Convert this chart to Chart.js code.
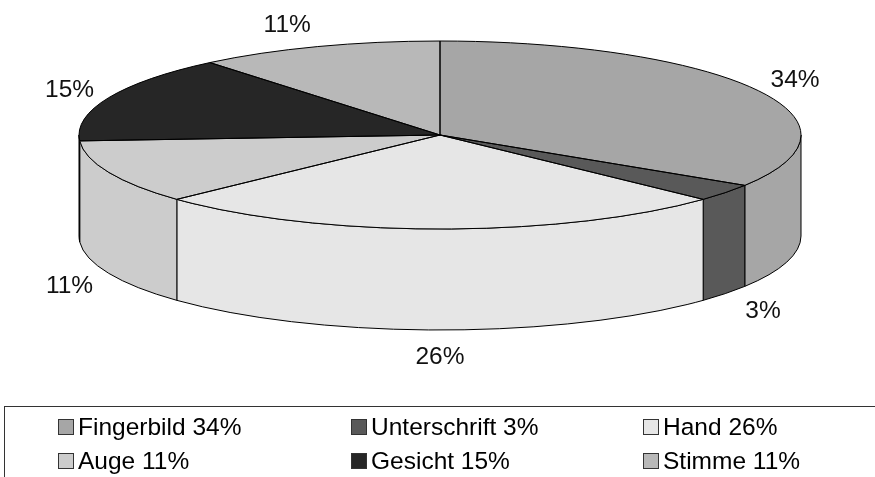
<!DOCTYPE html>
<html>
<head>
<meta charset="utf-8">
<title>Biometrie</title>
<script src="https://cdn.jsdelivr.net/npm/chart.js@4"></script>
<style>
  html, body { margin: 0; padding: 0; background: #fff; overflow: hidden; }
  #wrap { position: relative; width: 875px; height: 477px; overflow: hidden; font-family: "Liberation Sans", Arial, sans-serif; }
  #chart-pie { position: absolute; left: 0; top: 0; }
  #legend { position: absolute; left: 4px; top: 406px; width: 875px; height: 80px; border-top: 1px solid #333; border-left: 1px solid #333; }
  .item { position: absolute; font-size: 24.5px; line-height: 28px; color: #000; white-space: nowrap; }
  .item i { position: absolute; left: -20px; top: 6px; width: 14px; height: 14px; border: 1px solid #333; }
</style>
</head>
<body>
<div id="wrap">
  <canvas id="chart-pie" width="875" height="477"></canvas>
  <div id="legend"></div>
</div>
<script>
const names = ["Fingerbild", "Unterschrift", "Hand", "Auge", "Gesicht", "Stimme"];
const shares = [34, 3, 26, 11, 15, 11];
const greys = ["#a6a6a6", "#595959", "#e6e6e6", "#cccccc", "#262626", "#b8b8b8"];

// ─────────────────── 3D look ───────────────────
const RX = 361;      // pie radius, horizontal
const RY = 94;       // squashed radius of the top face
const DEPTH = 101;   // height of the side wall
const FONT = '24.5px "Liberation Sans", Arial, sans-serif';

const pie3d = {
  id: "pie3d",
  beforeDatasetsDraw(chart) {
    const ctx = chart.ctx;
    const arcs = chart.getDatasetMeta(0).data;
    const { x: cx, y: cy } = arcs[0];

    // side walls, only the front half (canvas angles 0..PI) is visible
    arcs.forEach((arc, i) => {
      const a0 = Math.max(arc.startAngle, 0);
      const a1 = Math.min(arc.endAngle, Math.PI);
      if (a1 <= a0) return;
      ctx.beginPath();
      ctx.ellipse(cx, cy, RX, RY, 0, a0, a1);
      ctx.ellipse(cx, cy + DEPTH, RX, RY, 0, a1, a0, true);
      ctx.closePath();
      ctx.fillStyle = greys[i];
      ctx.fill();
      ctx.lineWidth = 1;
      ctx.strokeStyle = "#000";
      ctx.stroke();
    });

    // the library draws the slices on a squashed canvas
    ctx.save();
    ctx.translate(cx, cy);
    ctx.scale(1, RY / RX);
    ctx.translate(-cx, -cy);
  },
  afterDatasetsDraw(chart) {
    const ctx = chart.ctx;
    ctx.restore();
    const arcs = chart.getDatasetMeta(0).data;
    const { x: cx, y: cy } = arcs[0];

    // slice outlines
    arcs.forEach(arc => {
      ctx.beginPath();
      ctx.moveTo(cx, cy);
      ctx.ellipse(cx, cy, RX, RY, 0, arc.startAngle, arc.endAngle);
      ctx.closePath();
      ctx.lineWidth = 1;
      ctx.strokeStyle = "#000";
      ctx.stroke();
    });

    // value labels outside the rim
    ctx.font = FONT;
    ctx.fillStyle = "#111";
    ctx.textAlign = "center";
    ctx.textBaseline = "middle";
    arcs.forEach((arc, i) => {
      const mid = (arc.startAngle + arc.endAngle) / 2;
      const c = Math.cos(mid), s = Math.sin(mid);
      const front = s > 0 ? DEPTH : 0;
      const x = cx + RX * c + 40 * Math.sign(c) * Math.pow(Math.abs(c), 0.25);
      const y = cy + RY * s + front + 25 * s + 2.5;
      ctx.fillText(shares[i] + "%", x, y);
    });
  },
};

new Chart(document.getElementById("chart-pie"), {
  type: "pie",
  data: {
    labels: names,
    datasets: [{
      data: shares,
      backgroundColor: greys,
      borderWidth: 0,
      hoverOffset: 0,
      clip: false,
    }],
  },
  options: {
    responsive: false,
    animation: false,
    radius: RX,
    layout: { padding: { left: 5, right: 0, top: 0, bottom: 207 } },
    plugins: {
      legend: { display: false },
      tooltip: { enabled: false },
    },
  },
  plugins: [pie3d],
});

// ─────────────────── Legend ───────────────────
const legendCols = [73, 366, 658];
const legendRows = [6, 40];
const legend = document.getElementById("legend");
names.forEach((name, i) => {
  const el = document.createElement("div");
  el.className = "item";
  el.style.left = legendCols[i % 3] + "px";
  el.style.top = legendRows[Math.floor(i / 3)] + "px";
  el.innerHTML = `<i style="background:${greys[i]}"></i>${name} ${shares[i]}%`;
  legend.appendChild(el);
});
</script>
</body>
</html>
